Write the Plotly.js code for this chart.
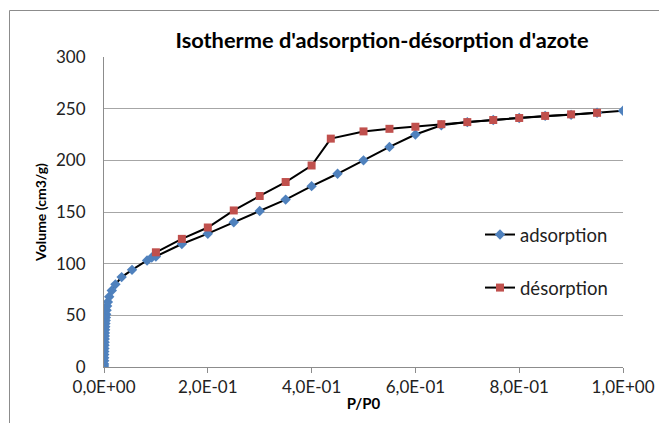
<!DOCTYPE html>
<html>
<head>
<meta charset="utf-8">
<script src="https://cdn.plot.ly/plotly-3.0.1.min.js"></script>
<style>html,body{margin:0;padding:0;background:#fff;}#chart{width:659px;height:423px;}</style>
</head>
<body>
<div id="chart"></div>
<script>
// Adsorption branch (P/P0, volume cm3/g)
var adsX = [0.0001,0.0002,0.0003,0.0004,0.0005,0.0006,0.0008,0.0010,0.0012,0.0014,0.0016,0.0018,0.0021,0.0024,0.0028,0.0032,0.0036,
            0.0042,0.0050,0.0060,0.0075,
            0.010,0.015,0.022,0.034,0.054,0.083,0.092,0.100,
            0.15,0.20,0.25,0.30,0.35,0.40,0.45,0.50,0.55,0.60,0.65,0.70,0.75,0.80,0.85,0.90,0.95,1.00];
var adsV = [1,3,6,9,12,15,18,21,24,27,30,33,36,39,42,45,48,
            51,55,59,63,
            68,74,80,87,94,103,106,107,
            119,129,140,151,162,175,187,200,213,225,234,237,239,241,243,244,246,248];
// Desorption branch
var desX = [0.95,0.90,0.85,0.80,0.75,0.70,0.65,0.60,0.55,0.50,0.437,0.40,0.35,0.30,0.25,0.20,0.15,0.10];
var desV = [246,244.5,243,241,239,237,235,232.5,230.5,228,221,195,179,165.5,151.5,135,124,111];

var xTicks = [0,0.2,0.4,0.6,0.8,1.0];
var xTickText = ['0,0E+00','2,0E-01','4,0E-01','6,0E-01','8,0E-01','1,0E+00'];

var FONT = 'Lato, "Open Sans", sans-serif';
var W = 659, H = 423;
var L = 104, R = 623, T = 57, B = 367;
function px(x){ return (x - L) / (R - L); }
function py(y){ return (B - y) / (B - T); }

var traces = [
  {x: adsX, y: adsV, name: 'adsorption', type: 'scatter', mode: 'lines+markers',
   line: {color: '#000000', width: 2},
   marker: {symbol: 'diamond', size: 8, color: '#4F81BD'},
   legendgroup: 'a'},
  {x: desX, y: desV, name: 'désorption', type: 'scatter', mode: 'lines+markers',
   line: {color: '#000000', width: 2},
   marker: {symbol: 'square', size: 8, color: '#C0504D'},
   legendgroup: 'd'}
];

var layout = {
  width: W, height: H,
  margin: {l: L, r: W - R, t: T, b: H - B, pad: 0},
  paper_bgcolor: '#ffffff', plot_bgcolor: '#ffffff',
  font: {family: FONT, color: '#222222', size: 17},
  title: {text: "Isotherme d'adsorption-désorption d'azote",
          font: {family: FONT, size: 21.8, color: '#000000', weight: 'bold'},
          x: 382 / W, xref: 'container', xanchor: 'center',
          y: 1 - 40 / H, yref: 'container', yanchor: 'middle'},
  xaxis: {range: [0, 1], tickvals: xTicks, ticktext: xTickText,
          showgrid: false, zeroline: false,
          showline: true, linecolor: '#8c8c8c', linewidth: 1,
          ticks: 'outside', ticklen: 5, tickcolor: '#8c8c8c',
          tickfont: {family: FONT, size: 17, color: '#222222'},
          title: {text: 'P/P0', font: {family: FONT, size: 15, color: '#000000', weight: 'bold'}, standoff: 2}},
  yaxis: {range: [0, 300], dtick: 50, tick0: 0,
          showgrid: true, gridcolor: '#a6a6a6', gridwidth: 1,
          zeroline: false, showline: true, linecolor: '#8c8c8c', linewidth: 1,
          ticks: '', ticklabelstandoff: 14,
          tickfont: {family: FONT, size: 17, color: '#222222'},
          title: {text: 'Volume (cm3/g)', font: {family: FONT, size: 14, color: '#000000', weight: 'bold'}, standoff: 6}},
  showlegend: true,
  legend: {x: px(480), y: py(216), xanchor: 'left', yanchor: 'top',
           bgcolor: 'rgba(0,0,0,0)', borderwidth: 0,
           font: {family: FONT, size: 18.5, color: '#222222'},
           traceorder: 'grouped', tracegroupgap: 26, itemwidth: 30},
  shapes: [
    {type: 'rect', xref: 'paper', yref: 'paper',
     x0: px(9.5), x1: px(720), y0: py(470), y1: py(10.5),
     line: {color: '#8c8c8c', width: 1}, fillcolor: 'rgba(0,0,0,0)', layer: 'below'}
  ]
};

Plotly.newPlot('chart', traces, layout, {displayModeBar: false, staticPlot: true});
</script>
</body>
</html>
